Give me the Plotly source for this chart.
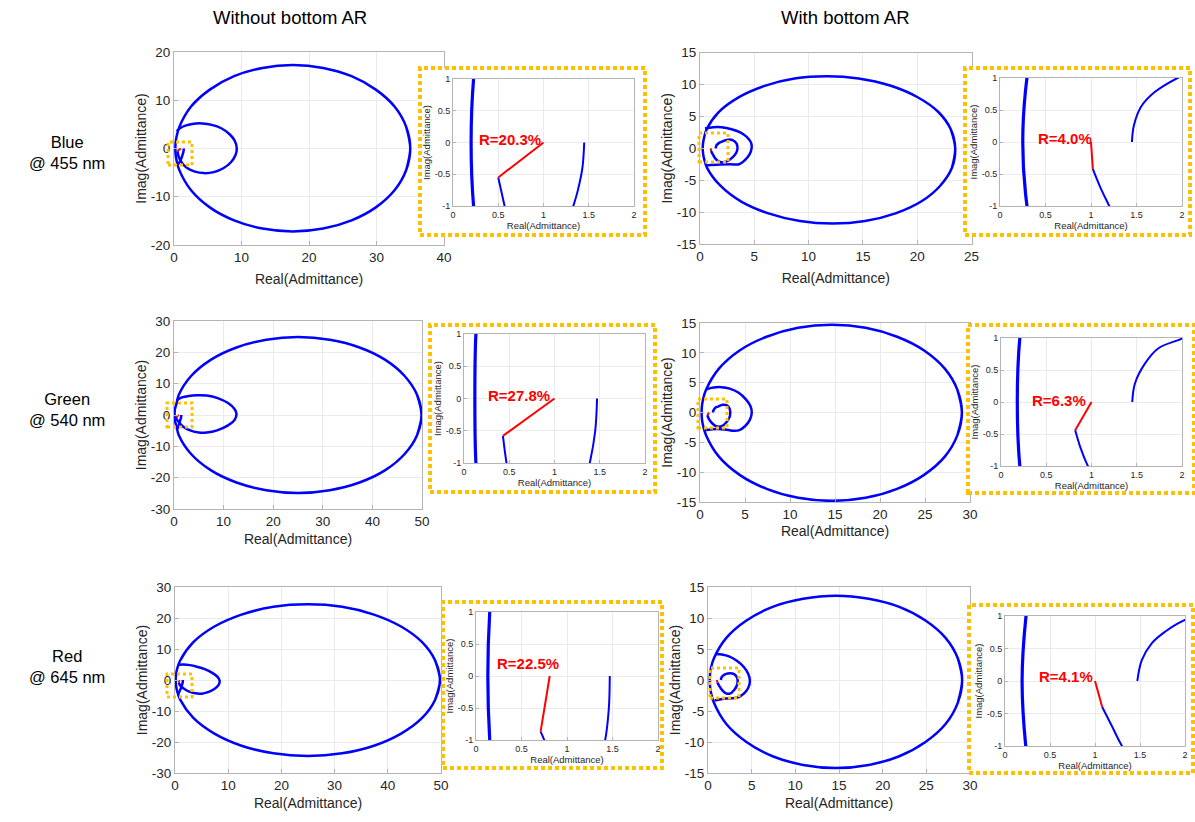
import plotly.graph_objects as go

W, H = 1195, 822
FONT = "Liberation Sans, Arial, Helvetica, sans-serif"
BLUE = "#0000FF"
RED = "#FF0000"
GOLD = "#FFC000"
TXT = "#262626"
AXL = "#b4b4b4"
GRID = "#ebebeb"

# ---------------- data ----------------
# Panel 1: Blue @ 455 nm, without bottom AR
p1_big_x = [34.4, 35.0, 34.4, 32.7, 29.9, 26.3, 22.1, 17.6, 13.1, 8.9, 5.3, 2.5, 0.79, 0.37, 0.24, 0.2,
            0.24, 0.37, 0.79, 2.5, 5.3, 8.9, 13.1, 17.6, 22.1, 26.3, 29.9, 32.7, 34.4, 35.0, 34.4]
p1_big_y = [-4.45, 0.0, 4.48, 8.65, 12.2, 14.98, 16.7, 17.3, 16.7, 15.0, 12.2, 8.65, 4.48, 2.4, 1.2, 0.0,
            -1.2, -2.4, -4.48, -8.6, -12.2, -14.9, -16.6, -17.2, -16.6, -14.9, -12.2, -8.6, -4.45, 0.0, 4.48]
p1_loop_x = [0.4, 1.0, 1.8, 2.9, 4.2, 5.6, 7.0, 8.2, 9.0, 9.3, 9.1, 8.4, 7.3, 5.9, 4.4, 3.1, 2.0, 1.3, 0.9, 0.65, 0.57, 0.5]
p1_loop_y = [3.6, 4.3, 4.8, 5.15, 5.2, 4.9, 4.2, 3.0, 1.6, 0.0, -1.4, -2.9, -4.1, -4.9, -5.1, -4.8, -4.1, -3.2, -2.3, -1.5, -1.0, -0.55]
p1_start_x = [1.45, 1.43, 1.38, 1.33, 1.15, 0.9, 0.6]
p1_start_y = [0.0, -0.4, -0.75, -1.0, -1.8, -2.6, -3.3]
p1_red_x = [0.5, 1.0]
p1_red_y = [-0.55, 0.0]

# Panel 2: Blue @ 455 nm, with bottom AR
p2_big_x = [23.2, 23.5, 23.1, 21.95, 20.0, 17.5, 14.6, 11.7, 8.7, 5.95, 3.55, 1.7, 0.6, 0.36, 0.28, 0.25,
            0.28, 0.37, 0.65, 1.9, 3.8, 6.3, 9.2, 12.2, 15.2, 18.0, 20.4, 22.1, 23.2, 23.5, 23.1]
p2_big_y = [-3.05, 0.0, 2.95, 5.7, 8.05, 9.85, 10.95, 11.3, 10.95, 9.8, 8.0, 5.65, 2.95, 1.55, 0.8, 0.0,
            -0.8, -1.6, -3.05, -5.9, -8.35, -10.2, -11.4, -11.8, -11.4, -10.2, -8.3, -5.9, -3.05, 0.0, 2.95]
p2_loop_x = [0.46, 1.2, 2.0, 2.9, 3.7, 4.3, 4.7, 4.76, 4.55, 4.1, 3.6, 2.8, 1.8, 0.6]
p2_loop_y = [3.1, 3.3, 3.3, 3.0, 2.5, 1.8, 0.9, 0.1, -1.0, -1.9, -2.5, -2.5, -2.55, -2.7]
p2_curl_x = [1.45, 1.47, 1.55, 1.7, 1.95, 2.45, 3.0, 3.38, 3.44, 3.2, 2.7, 2.1, 1.6, 1.35, 1.2, 1.1, 1.02]
p2_curl_y = [0.0, 0.25, 0.55, 0.78, 1.0, 1.32, 1.3, 0.7, -0.2, -1.05, -1.8, -2.2, -1.9, -1.45, -1.0, -0.7, -0.42]
p2_red_x = [1.02, 1.0]
p2_red_y = [-0.42, 0.0]

# Panel 3: Green @ 540 nm, without bottom AR
p3_big_x = [49.0, 49.9, 49.0, 46.5, 42.6, 37.4, 31.4, 25.0, 18.6, 12.6, 7.4, 3.45, 0.97, 0.48, 0.18, 0.12,
            0.18, 0.48, 0.97, 3.45, 7.4, 12.6, 18.6, 25.0, 31.4, 37.4, 42.6, 46.5, 49.0, 49.9, 49.0]
p3_big_y = [-6.44, 0.0, 6.44, 12.44, 17.59, 21.55, 24.0, 24.88, 24.0, 21.55, 17.6, 12.44, 6.44, 3.46, 1.74, 0.0,
            -1.74, -3.46, -6.44, -12.44, -17.6, -21.55, -24.0, -24.88, -24.0, -21.55, -17.59, -12.44, -6.44, 0.0, 6.44]
p3_loop_x = [0.57, 1.6, 3.0, 4.6, 6.6, 8.8, 10.9, 12.2, 12.6, 12.2, 10.8, 8.7, 6.6, 5.0, 3.4, 2.0, 1.1, 0.7, 0.5, 0.47, 0.43]
p3_loop_y = [4.7, 5.6, 6.1, 6.3, 6.2, 5.4, 3.8, 1.9, 0.3, -1.6, -3.4, -4.9, -5.6, -5.6, -5.0, -3.9, -2.6, -1.7, -1.2, -1.0, -0.58]
p3_start_x = [1.47, 1.45, 1.39, 1.2, 0.9, 0.55]
p3_start_y = [0.0, -0.5, -1.0, -2.0, -3.5, -4.7]
p3_red_x = [0.43, 1.0]
p3_red_y = [-0.58, 0.0]

# Panel 4: Green @ 540 nm, with bottom AR
p4_big_x = [28.6, 29.1, 28.6, 27.2, 24.9, 21.9, 18.4, 14.65, 10.9, 7.4, 4.4, 2.1, 0.67, 0.32, 0.21, 0.18,
            0.21, 0.32, 0.67, 2.1, 4.4, 7.4, 10.9, 14.65, 18.4, 21.9, 24.9, 27.2, 28.6, 29.1, 28.6]
p4_big_y = [-3.8, 0.0, 3.8, 7.35, 10.4, 12.7, 14.2, 14.7, 14.2, 12.7, 10.4, 7.35, 3.8, 2.05, 1.03, 0.0,
            -1.03, -2.05, -3.8, -7.4, -10.45, -12.8, -14.3, -14.8, -14.3, -12.8, -10.45, -7.4, -3.8, 0.0, 3.8]
p4_loop_x = [0.7, 1.5, 2.4, 3.3, 4.3, 5.1, 5.6, 5.75, 5.55, 5.0, 4.3, 3.6, 2.8, 1.9, 0.55]
p4_loop_y = [3.9, 4.2, 4.25, 4.0, 3.3, 2.2, 1.1, 0.0, -1.2, -2.3, -3.0, -3.05, -2.85, -2.75, -2.95]
p4_curl_x = [1.45, 1.48, 1.59, 1.74, 2.0, 2.5, 3.0, 3.3, 3.33, 2.96, 2.4, 1.8, 1.35, 1.1, 0.96, 0.88, 0.82]
p4_curl_y = [0.0, 0.29, 0.6, 0.84, 0.99, 1.3, 1.2, 0.6, -0.6, -1.6, -2.3, -2.3, -1.8, -1.35, -1.0, -0.72, -0.44]
p4_red_x = [0.82, 1.0]
p4_red_y = [-0.44, 0.0]

# Panel 5: Red @ 645 nm, without bottom AR
p5_big_x = [48.9, 49.8, 48.9, 46.45, 42.5, 37.4, 31.4, 24.95, 18.5, 12.5, 7.4, 3.45, 0.97, 0.37, 0.19, 0.13,
            0.19, 0.37, 0.97, 3.45, 7.4, 12.5, 18.5, 24.95, 31.4, 37.4, 42.5, 46.45, 48.9, 49.8, 48.9]
p5_big_y = [-6.35, 0.0, 6.3, 12.2, 17.25, 21.1, 23.6, 24.4, 23.6, 21.1, 17.25, 12.2, 6.3, 3.4, 1.7, 0.0,
            -1.7, -3.4, -6.35, -12.25, -17.3, -21.2, -23.65, -24.5, -23.65, -21.2, -17.3, -12.25, -6.35, 0.0, 6.3]
p5_loop_x = [0.62, 1.6, 2.8, 4.1, 5.6, 7.0, 8.0, 8.4, 8.2, 7.4, 6.2, 5.0, 3.8, 2.6, 1.7, 1.1, 0.85, 0.75, 0.71]
p5_loop_y = [4.9, 5.0, 4.8, 4.3, 3.5, 2.3, 1.0, -0.3, -1.6, -2.9, -3.9, -4.4, -4.3, -3.7, -2.8, -2.0, -1.4, -1.0, -0.87]
p5_start_x = [1.47, 1.46, 1.42, 1.25, 0.95, 0.55]
p5_start_y = [0.0, -0.5, -1.0, -2.0, -3.3, -4.7]
p5_red_x = [0.71, 0.81]
p5_red_y = [-0.87, 0.0]

# Panel 6: Red @ 645 nm, with bottom AR
p6_big_x = [28.6, 29.1, 28.6, 27.2, 24.9, 21.9, 18.4, 14.65, 10.9, 7.4, 4.4, 2.1, 0.68, 0.33, 0.23, 0.19,
            0.23, 0.33, 0.68, 2.1, 4.4, 7.4, 10.9, 14.65, 18.4, 21.9, 24.9, 27.2, 28.6, 29.1, 28.6]
p6_big_y = [-3.68, 0.0, 3.52, 6.8, 9.6, 11.8, 13.1, 13.6, 13.1, 11.8, 9.6, 6.8, 3.52, 1.9, 0.95, 0.0,
            -0.99, -1.98, -3.68, -7.1, -10.0, -12.3, -13.7, -14.2, -13.7, -12.3, -10.0, -7.1, -3.68, 0.0, 3.52]
p6_loop_x = [0.9, 1.6, 2.4, 3.3, 4.1, 4.6, 4.8, 4.6, 4.1, 3.5, 2.8, 2.0, 0.75]
p6_loop_y = [4.2, 4.1, 3.8, 3.1, 2.1, 1.0, -0.1, -1.3, -2.2, -2.75, -2.95, -3.0, -3.3]
p6_curl_x = [1.47, 1.52, 1.63, 1.78, 2.0, 2.5, 3.0, 3.35, 3.35, 3.0, 2.5, 2.0, 1.6, 1.3, 1.19, 1.08]
p6_curl_y = [0.0, 0.32, 0.58, 0.76, 0.94, 1.1, 0.95, 0.3, -0.7, -1.6, -2.2, -2.1, -1.6, -1.0, -0.7, -0.4]
p6_red_x = [1.08, 1.0]
p6_red_y = [-0.4, 0.0]

# texts
r_labels = ["R=20.3%", "R=4.0%", "R=27.8%", "R=6.3%", "R=22.5%", "R=4.1%"]
column_titles = ["Without bottom AR", "With bottom AR"]
row_titles = ["Blue<br>@ 455 nm", "Green<br>@ 540 nm", "Red<br>@ 645 nm"]

# axis ticks
ticks_40 = [0, 10, 20, 30, 40]
ticks_50 = [0, 10, 20, 30, 40, 50]
ticks_25 = [0, 5, 10, 15, 20, 25]
ticks_30 = [0, 5, 10, 15, 20, 25, 30]
yticks_20 = [-20, -10, 0, 10, 20]
yticks_30 = [-30, -20, -10, 0, 10, 20, 30]
yticks_15 = [-15, -10, -5, 0, 5, 10, 15]
inset_xticks = [0, 0.5, 1, 1.5, 2]
inset_xtext = ["0", "0.5", "1", "1.5", "2"]
inset_yticks = [-1, -0.5, 0, 0.5, 1]
inset_ytext = ["-1", "-0.5", "0", "0.5", "1"]

# ---------------- layout geometry (pixels) ----------------
panels = [
    dict(big=(p1_big_x, p1_big_y), parts=[(p1_loop_x, p1_loop_y), (p1_start_x, p1_start_y)], red=(p1_red_x, p1_red_y),
         main=(174, 444, 52, 245), xr=[0, 40], yr=[-20, 20], xt=ticks_40, yt=yticks_20, so=9,
         inset=(453, 634, 79, 206), box=(420, 645, 68, 235), sbox=(168, 192, 142, 165), lab=(0.27, 0.05)),
    dict(big=(p2_big_x, p2_big_y), parts=[(p2_loop_x, p2_loop_y), (p2_curl_x, p2_curl_y)], red=(p2_red_x, p2_red_y),
         main=(700, 971.5, 52.7, 244), xr=[0, 25], yr=[-15, 15], xt=ticks_25, yt=yticks_15, so=9,
         inset=(1000, 1182, 78, 206), box=(965, 1190, 68, 235), sbox=(699, 728, 133, 162), lab=(0.40, 0.05)),
    dict(big=(p3_big_x, p3_big_y), parts=[(p3_loop_x, p3_loop_y), (p3_start_x, p3_start_y)], red=(p3_red_x, p3_red_y),
         main=(174, 422, 321, 509), xr=[0, 50], yr=[-30, 30], xt=ticks_50, yt=yticks_30, so=5,
         inset=(464, 645, 334, 463), box=(430, 655, 325, 492), sbox=(167, 192, 403, 427), lab=(0.24, 0.04)),
    dict(big=(p4_big_x, p4_big_y), parts=[(p4_loop_x, p4_loop_y), (p4_curl_x, p4_curl_y)], red=(p4_red_x, p4_red_y),
         main=(700, 970, 323, 502), xr=[0, 30], yr=[-15, 15], xt=ticks_30, yt=yticks_15, so=4,
         inset=(1001, 1182, 338, 466), box=(968, 1194, 325, 493), sbox=(698, 727, 399, 428), lab=(0.32, 0.03)),
    dict(big=(p5_big_x, p5_big_y), parts=[(p5_loop_x, p5_loop_y), (p5_start_x, p5_start_y)], red=(p5_red_x, p5_red_y),
         main=(175, 441, 587, 773), xr=[0, 50], yr=[-30, 30], xt=ticks_50, yt=yticks_30, so=5,
         inset=(476, 658, 612, 740), box=(443, 662, 602, 768), sbox=(167, 192, 674, 697), lab=(0.21, 0.2)),
    dict(big=(p6_big_x, p6_big_y), parts=[(p6_loop_x, p6_loop_y), (p6_curl_x, p6_curl_y)], red=(p6_red_x, p6_red_y),
         main=(708, 970, 587, 773), xr=[0, 30], yr=[-15, 15], xt=ticks_30, yt=yticks_15, so=5,
         inset=(1005, 1185, 616, 746), box=(969, 1193, 605, 773), sbox=(710, 739, 668, 698), lab=(0.35, 0.07)),
]


def fx(px):
    return px / W


def fy(py):
    return 1 - py / H


def axname(n):
    return "" if n == 1 else str(n)


fig = go.Figure()
layout = {}
shapes = []
annotations = []


def axis_style(vals, text, fsize, tsize, title, standoff, ticklen):
    return dict(tickvals=vals, ticktext=text,
                showline=True, mirror=True, linecolor=AXL, linewidth=1,
                ticks="inside", ticklen=ticklen, tickcolor=AXL,
                showgrid=True, gridcolor=GRID, zeroline=False,
                tickfont=dict(size=fsize, color=TXT, family=FONT),
                title=dict(text=title, font=dict(size=tsize, color=TXT, family=FONT), standoff=standoff),
                automargin=False, fixedrange=True)


for i, p in enumerate(panels):
    nm, nc, ni = 3 * i + 1, 3 * i + 2, 3 * i + 3
    # ---- main axes
    l, r, t, b = p["main"]
    ax = axis_style(p["xt"], [str(v) for v in p["xt"]], 13.5, 14, "Real(Admittance)", p["so"], 4)
    ax.update(domain=[fx(l), fx(r)], range=p["xr"], anchor="y" + axname(nm))
    layout["xaxis" + axname(nm)] = ax
    ay = axis_style(p["yt"], [str(v) for v in p["yt"]], 13.5, 14, "Imag(Admittance)", 0, 4)
    ay.update(domain=[fy(b), fy(t)], range=p["yr"], anchor="x" + axname(nm))
    layout["yaxis" + axname(nm)] = ay
    xa, ya = "x" + axname(nm), "y" + axname(nm)
    fig.add_trace(go.Scatter(x=p["big"][0], y=p["big"][1], mode="lines",
                             line=dict(color=BLUE, width=2.5, shape="spline", smoothing=1.0),
                             xaxis=xa, yaxis=ya, hoverinfo="skip"))
    for px_, py_ in p["parts"]:
        fig.add_trace(go.Scatter(x=px_, y=py_, mode="lines", line=dict(color=BLUE, width=2.5, shape="spline"),
                                 xaxis=xa, yaxis=ya, hoverinfo="skip"))
    fig.add_trace(go.Scatter(x=p["red"][0], y=p["red"][1], mode="lines", line=dict(color=RED, width=2),
                             xaxis=xa, yaxis=ya, hoverinfo="skip"))

    # ---- white cover under the inset
    bl, br, bt, bb = p["box"]
    layout["xaxis" + axname(nc)] = dict(domain=[fx(bl), fx(br)], range=[0, 1], visible=False,
                                        anchor="y" + axname(nc), fixedrange=True)
    layout["yaxis" + axname(nc)] = dict(domain=[fy(bb), fy(bt)], range=[0, 1], visible=False,
                                        anchor="x" + axname(nc), fixedrange=True)
    fig.add_trace(go.Scatter(x=[0, 1, 1, 0, 0], y=[0, 0, 1, 1, 0], mode="none", fill="toself", fillcolor="white",
                             xaxis="x" + axname(nc), yaxis="y" + axname(nc), hoverinfo="skip"))

    # ---- inset axes
    l, r, t, b = p["inset"]
    ix = axis_style(inset_xticks, inset_xtext, 9, 9.5, "Real(Admittance)", 2, 3)
    ix.update(domain=[fx(l), fx(r)], range=[0, 2], anchor="y" + axname(ni))
    layout["xaxis" + axname(ni)] = ix
    iy = axis_style(inset_yticks, inset_ytext, 9, 9.5, "Imag(Admittance)", 2, 3)
    iy.update(domain=[fy(b), fy(t)], range=[-1, 1], anchor="x" + axname(ni))
    layout["yaxis" + axname(ni)] = iy
    xa, ya = "x" + axname(ni), "y" + axname(ni)
    fig.add_trace(go.Scatter(x=p["big"][0], y=p["big"][1], mode="lines", line=dict(color=BLUE, width=3.2, shape="spline"),
                             xaxis=xa, yaxis=ya, hoverinfo="skip"))
    for px_, py_ in p["parts"]:
        fig.add_trace(go.Scatter(x=px_, y=py_, mode="lines", line=dict(color=BLUE, width=2, shape="spline"),
                                 xaxis=xa, yaxis=ya, hoverinfo="skip"))
    fig.add_trace(go.Scatter(x=p["red"][0], y=p["red"][1], mode="lines", line=dict(color=RED, width=2),
                             xaxis=xa, yaxis=ya, hoverinfo="skip"))
    annotations.append(dict(x=p["lab"][0], y=p["lab"][1], xref=xa, yref=ya, text="<b>%s</b>" % r_labels[i],
                            showarrow=False, xanchor="left", yanchor="middle",
                            font=dict(size=15, color=RED, family=FONT)))

    # ---- dotted boxes
    shapes.append(dict(type="rect", xref="paper", yref="paper", x0=fx(bl), x1=fx(br), y0=fy(bb), y1=fy(bt),
                       line=dict(color=GOLD, width=4, dash="4px,3px"), layer="above"))
    sl, sr, st, sb = p["sbox"]
    shapes.append(dict(type="rect", xref="paper", yref="paper", x0=fx(sl), x1=fx(sr), y0=fy(sb), y1=fy(st),
                       line=dict(color=GOLD, width=3, dash="3px,3px"), layer="above"))

# titles
for txt, cx in zip(column_titles, [290, 845]):
    annotations.append(dict(x=fx(cx), y=fy(18), xref="paper", yref="paper", text=txt, showarrow=False,
                            font=dict(size=18.5, color="#000000", family=FONT), xanchor="center", yanchor="middle"))
for txt, cy in zip(row_titles, [152, 410, 666]):
    annotations.append(dict(x=fx(67), y=fy(cy), xref="paper", yref="paper", text=txt, showarrow=False,
                            font=dict(size=16.5, color="#000000", family=FONT), xanchor="center", yanchor="middle",
                            align="center"))

layout.update(dict(width=W, height=H, margin=dict(l=0, r=0, t=0, b=0), paper_bgcolor="white",
                   plot_bgcolor="white", showlegend=False, shapes=shapes, annotations=annotations,
                   font=dict(family=FONT)))
fig.update_layout(**layout)
fig.write_html("out.html")
